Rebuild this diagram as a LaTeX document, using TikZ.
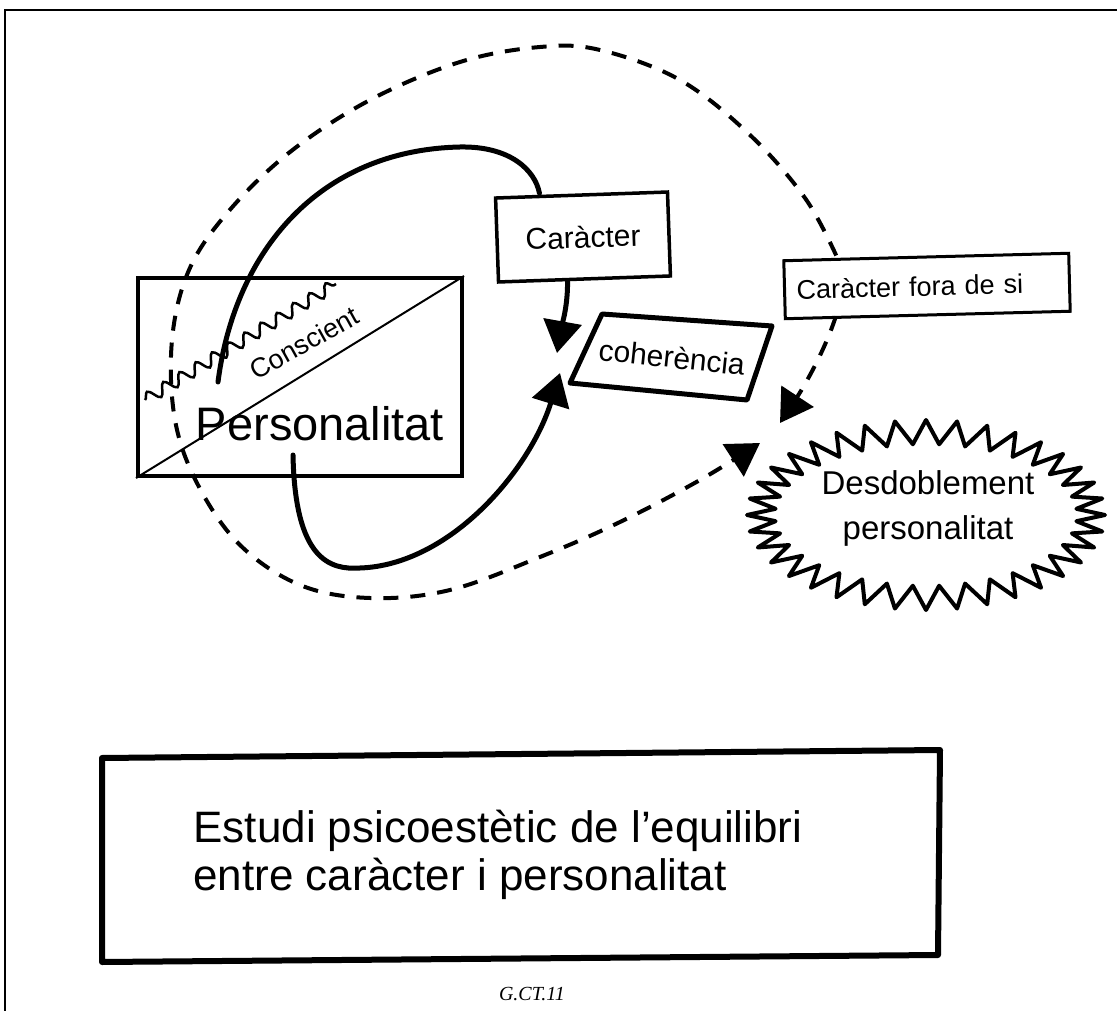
\documentclass[tikz,border=0pt]{standalone}
\usepackage{fontspec}
\setmainfont{Liberation Sans}
\newfontfamily\capfont{Liberation Serif}
\usetikzlibrary{arrows.meta,decorations.pathmorphing}
\begin{document}
\begin{tikzpicture}[x=1pt,y=-1pt,
  framestyle/.style={line width=1.6pt},
  handbox/.style={draw, line width=3pt, inner sep=0pt},
  solidcurve/.style={line width=5pt, line cap=round},
  dashline/.style={line width=4pt, dash pattern=on 15pt off 12pt},
  bigtip/.style={-{Triangle[length=32pt,width=38pt]}},
  fsA/.style={font=\fontsize{27}{27}\selectfont},
  fsB/.style={font=\fontsize{30}{30}\selectfont},
  fsC/.style={font=\fontsize{44}{50}\selectfont},
]
\useasboundingbox (0,0) rectangle (1117,1011);
\fill[white] (0,0) rectangle (1117,1011);
% frame
\draw[framestyle] (5,1011) -- (5,10) -- (1117,10);

% Personalitat box
\node[handbox, line width=4pt, minimum width=324pt, minimum height=198pt] (pbox) at (300,377) {};
\draw[line width=2pt] (pbox.south west) -- (pbox.north east);
\draw[line width=2.5pt, decorate, decoration={snake, amplitude=6pt, segment length=19pt}] (145,400) -- (336,284);
\node[fsA, rotate=29] (consc) at (304,343) {Conscient};
\node[font=\fontsize{47}{47}\selectfont] (pers) at (320,424) {Personalitat};

% Caracter box
\node[handbox, line width=3.5pt, minimum width=172pt, minimum height=84pt, rotate=2, fsB] (car) at (583,237) {Caràcter};

% coherencia
\draw[line width=5pt, line join=round] (602,314) -- (772,326) -- (747,400) -- (570,383) -- cycle;
\node[fsB, rotate=-6] (coh) at (672,357) {coherència};

% Caracter fora de si
\node[handbox, line width=3pt, text width=261pt, inner xsep=12pt, align=left, minimum height=58pt, rotate=1.5, font=\fontsize{27}{27}\selectfont] (cfs) at (927,286) {Caràcter fora de si};

% Desdoblement burst
\draw[line width=4pt, line join=round]
  ({926+179},515)
  \foreach \k in {1,...,35} { -- ({926+151*cos(\k*10-5)},{515+71*sin(\k*10-5)}) -- ({926+179*cos(\k*10)},{515+95*sin(\k*10)}) }
  -- ({926+151*cos(355)},{515+71*sin(355)}) -- cycle;
\node[font=\fontsize{33}{45}\selectfont, align=center] (des) at (928,508) {Desdoblement\\personalitat};

% connectors
\coordinate (c1s) at (218,382);
\coordinate (c3s) at (293,455);
\coordinate (t2) at (557,353);
\coordinate (t3) at (560,373);
\coordinate (t4) at (760,443);
\coordinate (t5) at (780,423);

\draw[solidcurve] (c1s) .. controls (235,250) and (320,150) .. (460,147) .. controls (510,146) and (535,170) .. ([xshift=-42]car.north);
\draw[solidcurve, bigtip] ([xshift=-17]car.south) .. controls (568,305) and (562,325) .. (t2);
\draw[solidcurve, bigtip] (c3s) .. controls (295,560) and (330,570) .. (360,568) .. controls (450,565) and (530,470) .. (t3);

\draw[dashline, bigtip] plot[smooth, tension=0.6] coordinates {([xshift=-90]cfs.north) (805,198) (750,135) (680,80) (600,50) (540,47) (460,62) (370,100) (290,152) (228,212) (189,270) (172,340) (175,420) (198,485) (240,545) (300,585) (370,598) (450,590) (540,557) (620,522) (700,480) (t4)};
\draw[dashline, bigtip] ([xshift=-92]cfs.south) .. controls (825,350) and (805,385) .. (t5);

% bottom box
\draw[line width=6pt, line join=round] (102,758) -- (940,750) -- (938,955) -- (102,962) -- cycle;
\node[fsC, anchor=base west] (l1) at (190,842) {Estudi psicoestètic de l'equilibri};
\node[fsC, anchor=base west] (l2) at (190,890) {entre caràcter i personalitat};

\node[font=\capfont\itshape\fontsize{20}{20}\selectfont] (code) at (532,994) {G.CT.11};
\end{tikzpicture}
\end{document}
